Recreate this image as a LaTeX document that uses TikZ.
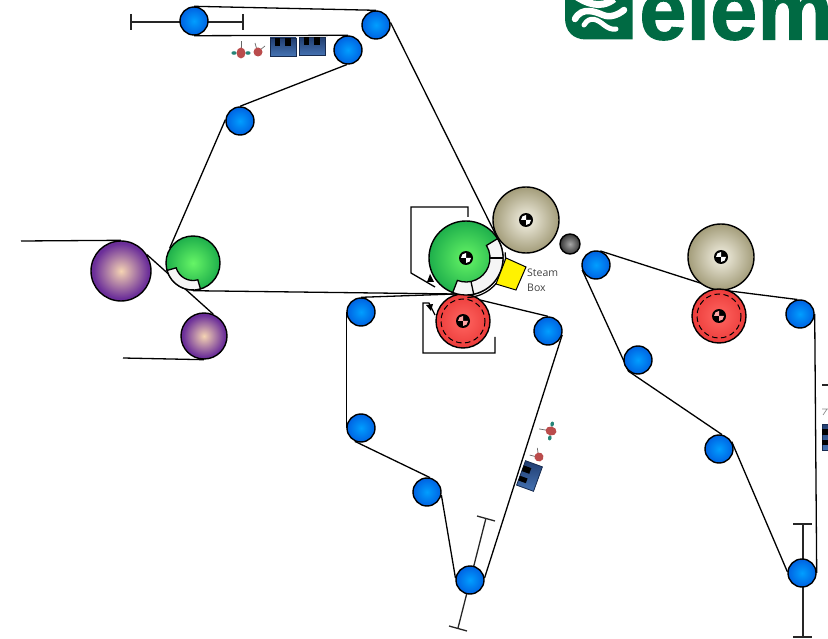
\documentclass[tikz,border=0pt]{standalone}
\usepackage{fontspec}
\setmainfont{Open Sans}
\newfontfamily\logofont[FakeBold=1.2]{Liberation Sans}
\usetikzlibrary{backgrounds,calc}
\pgfdeclareradialshading{rollblue}{\pgfpoint{0bp}{0bp}}{rgb(0bp)=(0,0.62,1);rgb(33bp)=(0,0.31,0.85);rgb(50bp)=(0,0.31,0.85)}
\pgfdeclareradialshading{rollpurple}{\pgfpoint{0bp}{0bp}}{rgb(0bp)=(0.96,0.83,0.7);rgb(23bp)=(0.42,0.18,0.6);rgb(50bp)=(0.42,0.18,0.6)}
\pgfdeclareradialshading{rollgreen}{\pgfpoint{0bp}{0bp}}{rgb(0bp)=(0.40,0.96,0.40);rgb(31bp)=(0.05,0.62,0.27);rgb(50bp)=(0.05,0.62,0.27)}
\pgfdeclareradialshading{rollkhaki}{\pgfpoint{0bp}{0bp}}{rgb(0bp)=(0.96,0.95,0.9);rgb(32bp)=(0.55,0.52,0.36);rgb(50bp)=(0.55,0.52,0.36)}
\pgfdeclareradialshading{rollred}{\pgfpoint{0bp}{0bp}}{rgb(0bp)=(1,0.40,0.38);rgb(33bp)=(0.90,0.18,0.18);rgb(50bp)=(0.90,0.18,0.18)}
\pgfdeclareradialshading{rollgrey}{\pgfpoint{0bp}{0bp}}{rgb(0bp)=(0.65,0.65,0.65);rgb(30bp)=(0.13,0.13,0.13);rgb(50bp)=(0.13,0.13,0.13)}
\definecolor{logogreen}{HTML}{006A43}
\definecolor{boxdark}{rgb}{0.13,0.24,0.44}
\definecolor{boxlight}{rgb}{0.27,0.45,0.70}
\definecolor{spotred}{rgb}{0.73,0.30,0.30}
\definecolor{spotteal}{rgb}{0.15,0.52,0.47}
\tikzset{
  roll/.style={circle,draw=black,line width=1.4pt,inner sep=0pt,shade},
  bluer/.style={roll,shading=rollblue,minimum size=28pt},
  purpler/.style={roll,shading=rollpurple},
  greenr/.style={roll,shading=rollgreen},
  khakir/.style={roll,shading=rollkhaki,minimum size=66pt},
  redr/.style={roll,shading=rollred,minimum size=54pt},
  greyr/.style={roll,shading=rollgrey,minimum size=20pt},
  belt/.style={draw=black,line width=1.3pt},
  guide/.style={draw=black!85,line width=1.3pt},
  sector/.style={fill=black!4,draw=black,line width=1.3pt},
  labeltxt/.style={inner sep=0pt,anchor=base west,font=\fontsize{10.5}{12}\selectfont,text=black!75},
  redspot/.style={fill=spotred,draw=none},
  tealspot/.style={fill=spotteal,draw=none},
  thinstem/.style={draw=black!60,line width=0.7pt}
}
\newcommand{\hubmark}[3]{%
  \fill[black] (#1.center) circle (7);
  \fill[#2] (#1.center) -- ++(5,0) arc[start angle=0,end angle=90,radius=5] -- cycle;
  \fill[#2] (#1.center) -- ++(-5,0) arc[start angle=180,end angle=270,radius=5] -- cycle;
}
\newcommand{\sprayA}[3]{\begin{scope}[shift={(#1,#2)},rotate=#3]
  \draw[thinstem] (0,0) -- (0,-12);
  \fill[tealspot] (-7,0) ellipse (2.6 and 1.8);
  \fill[tealspot] (7,0) ellipse (2.6 and 1.8);
  \fill[redspot] (0,0) ellipse (4.5 and 5.5);
\end{scope}}
\newcommand{\sprayB}[3]{\begin{scope}[shift={(#1,#2)},rotate=#3]
  \draw[thinstem] (-1,-2) -- (-3,-9);
  \draw[thinstem] (2,-2) -- (7,-6);
  \fill[redspot] (0,0) circle (4.5);
\end{scope}}
\newcommand{\coilbox}[3]{\begin{scope}[shift={(#1,#2)},rotate=#3]
  \path[top color=boxdark,bottom color=boxlight,draw=boxdark!70!black,line width=0.8pt] (-13,-9) rectangle (13,9);
  \fill[black] (-8,-9) rectangle (-3,-1);
  \fill[black] (2,-9) rectangle (8,-1);
\end{scope}}
\begin{document}
\begin{tikzpicture}[x=1pt,y=-1pt]
\path[use as bounding box] (0,0) rectangle (828,639);
\clip (0,0) rectangle (828,639);

% logo
\fill[logogreen] (565,-1) -- (565,18) .. controls (565,31) and (573,39.5) .. (586,39.5) -- (632.5,39.5) -- (632.5,-1) -- cycle;
\draw[white,line width=7pt] (577,-3) .. controls (585,2) and (600,10) .. (614,-1);
\draw[white,line width=6.5pt,line cap=round] (575,19) .. controls (582,6) and (596,12) .. (603,15) .. controls (610,18) and (618,15) .. (624,10);
\draw[white,line width=5pt,line cap=round] (584,25) .. controls (590,15) and (598,20) .. (604,25) .. controls (608,28) and (612,30) .. (616,29);
\node[inner sep=0pt,anchor=base west,text=logogreen,font=\logofont\bfseries\fontsize{85}{85}\selectfont] (logo) at (639,39.5) {elem};

% rolls
\node[bluer] (b1) at (194,21) {};
\node[bluer] (b2) at (376,25) {};
\node[bluer] (b3) at (348,50) {};
\node[bluer] (b4) at (240,121) {};
\node[bluer] (b5) at (361,312) {};
\node[bluer] (b6) at (548,331) {};
\node[bluer] (b7) at (361,428) {};
\node[bluer] (b8) at (427,492) {};
\node[bluer] (b9) at (470,580) {};
\node[bluer] (b10) at (596,265) {};
\node[bluer] (b11) at (638,360) {};
\node[bluer] (b12) at (719,449) {};
\node[bluer] (b13) at (800,314) {};
\node[bluer] (b14) at (802,573) {};
\node[purpler,minimum size=60pt] (pb) at (121,271) {};
\node[purpler,minimum size=46pt] (ps) at (204,336) {};
\node[greenr,minimum size=54pt] (gs) at (193,263) {};
\node[greenr,minimum size=74pt] (gb) at (466,258) {};
\node[khakir] (k1) at (526,220) {};
\node[khakir] (k2) at (721,257) {};
\node[redr] (r1) at (463,321) {};
\node[redr] (r2) at (719,316) {};
\node[greyr] (gr) at (570,244) {};

% free ends
\coordinate (nipa) at (455,294);
\coordinate (nipb) at (722,290);
\coordinate (endtop) at (21,241);
\coordinate (endbot) at (123,358);
\coordinate (hooka1) at (468,217);
\coordinate (hooka2) at (468,207);
\coordinate (hooka3) at (411,207);
\coordinate (hooka4) at (411,273);
\coordinate (hooka5) at (435,287);
\coordinate (hookb1) at (495,337);
\coordinate (hookb2) at (495,353);
\coordinate (hookb3) at (423,353);
\coordinate (hookb4) at (423,303);
\coordinate (hookb5) at (429,303);
\coordinate (hookb6) at (435,315);
\coordinate (ga) at (131,22);
\coordinate (gb1) at (243,22);
\coordinate (gc) at (486,518);
\coordinate (gd) at (458,628);
\coordinate (ge) at (803,524);
\coordinate (gf) at (803,637);

\begin{scope}[on background layer]
  % tension guides
  \draw[guide] (ga) -- (gb1);
  \draw[guide] (131,14) -- (131,30);
  \draw[guide] (243,14) -- (243,30);
  \draw[guide] (gc) -- (gd);
  \draw[guide] (477,516) -- (495,521);
  \draw[guide] (449,626) -- (467,631);
  \draw[guide] (ge) -- (gf);
  \draw[guide] (793,524) -- (812,524);
  \draw[guide] (793,637) -- (812,637);
  % belts
  \draw[belt] (b1.north) -- (b2.north);
  \draw[belt] (b1.south) -- (b3.north);
  \draw[belt] (b3.265) -- (b4.north);
  \draw[belt] (b4.175) -- (gs.147);
  \draw[belt] (b2.10) -- (k1.210);
  \draw[belt] (gs.south) -- (nipa);
  \draw[belt] (b5.north) -- (nipa) -- (b6.north);
  \draw[belt] (b5.west) -- (b7.west);
  \draw[belt] (b7.245) -- (b8.78);
  \draw[belt] (b8.348) -- (b9.172);
  \draw[belt] (b9.8) -- (b6.344);
  \draw[belt] (endtop) -- (pb.north);
  \draw[belt] (pb.32) -- (ps.67);
  \draw[belt] (ps.south) -- (endbot);
  \draw[belt] (b10.73) -- (nipb) -- (b13.100);
  \draw[belt] (b13.east) -- (b14.east);
  \draw[belt] (b14.175) -- (b12.30);
  \draw[belt] (b10.200) -- (b11.230) -- (b12.78);
\end{scope}

% felt-roll sectors
\draw[sector] (193,263) ++(74:27) arc[start angle=74,end angle=164,radius=27] -- ($(193,263)+(164:17.5)$) arc[start angle=164,end angle=74,radius=17.5] -- cycle;
\draw[sector] (466,258) ++(-31.5:37) arc[start angle=-31.5,end angle=111,radius=37] -- ($(466,258)+(111:24)$) arc[start angle=111,end angle=-31.5,radius=24] -- cycle;
\draw[belt] ($(466,258)+(0:24)$) -- ($(466,258)+(0:37)$);
\draw[belt] ($(466,258)+(78:24)$) -- ($(466,258)+(78:37)$);
\draw[belt] ($(466,258)+(-8:39.5)$) arc[start angle=-8,end angle=88,radius=39.5];

% hubs
\hubmark{gb}{white}{black}
\hubmark{k1}{white}{black}
\hubmark{k2}{white}{black}
\hubmark{r1}{red!35!white}{black}
\hubmark{r2}{red!35!white}{black}
\draw[black,line width=1pt,dash pattern=on 5.5pt off 3.5pt] (r1.center) circle (22);
\draw[black,line width=1pt,dash pattern=on 5.5pt off 3.5pt] (r2.center) circle (22);

% doctor blades
\draw[belt] (hooka1) -- (hooka2) -- (hooka3) -- (hooka4) -- (hooka5);
\fill[black] (430,274) -- (434,282) -- (427,282) -- cycle;
\draw[belt] (hookb1) -- (hookb2) -- (hookb3) -- (hookb4) -- (hookb5) -- (hookb6);
\fill[black] (426,305) -- (433,304) -- (431,311) -- cycle;

% steam box
\filldraw[fill=yellow,draw=black,line width=1pt] (506,258) -- (526,267) -- (516,290) -- (496,284) -- cycle;
\node[labeltxt] (steam) at (527,277) {Steam};
\node[labeltxt] (box) at (527,292) {Box};

% instruments
\sprayA{241}{53}{0}
\sprayB{258}{52}{0}
\coilbox{283}{47}{0}
\coilbox{312}{46.5}{0}
\sprayA{551}{431}{80}
\sprayB{539}{457}{60}
\coilbox{529.5}{476}{70}
\coilbox{831}{437}{90}
\draw[guide] (822,385) -- (828,385);
\draw[draw=black!45,line width=0.7pt] (822,409) -- (828,409) (827,409) -- (823,415);
\end{tikzpicture}
\end{document}
